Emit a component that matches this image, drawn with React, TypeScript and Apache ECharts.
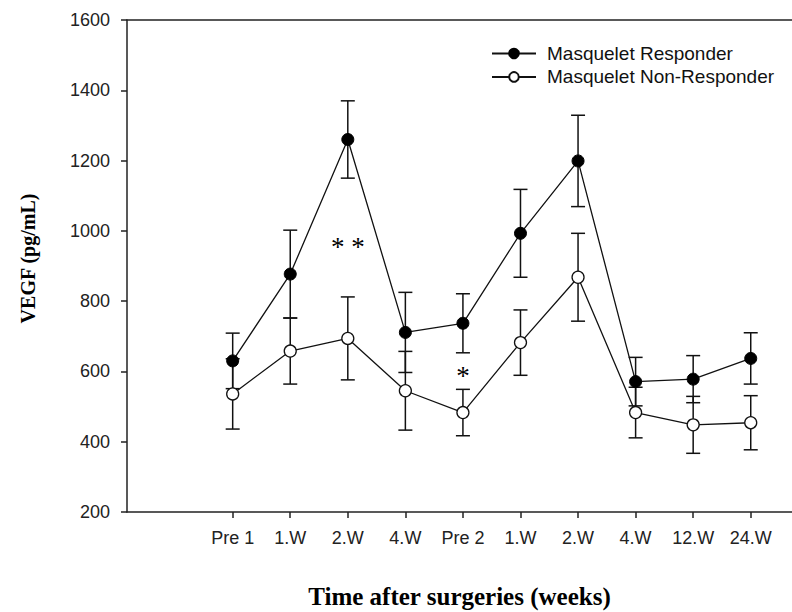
import React, { useEffect, useRef } from "react";
import * as echarts from "echarts";

const categories = ["Pre 1", "1.W", "2.W", "4.W", "Pre 2", "1.W", "2.W", "4.W", "12.W", "24.W"];
const responder = [630, 877, 1260, 711, 737, 993, 1199, 571, 578, 637];
const responderErr = [79, 125, 110, 114, 84, 125, 130, 69, 67, 73];
const nonResponder = [536, 658, 694, 545, 483, 682, 868, 483, 448, 454];
const nonResponderErr = [100, 94, 118, 112, 66, 93, 125, 72, 81, 77];
const yTicks = [200, 400, 600, 800, 1000, 1200, 1400, 1600];
const annotations = [
  { text: "* *", x: 2, y: 954 },
  { text: "*", x: 4, y: 588 },
];

const SANS = "'Liberation Sans', Arial, sans-serif";
const SERIF = "'Liberation Serif', 'Times New Roman', serif";

function errorBarSeries(values: number[], errs: number[], z: number) {
  return {
    type: "custom",
    z,
    silent: true,
    data: values.map((v, i) => [i, v - errs[i], v + errs[i]]),
    encode: { x: 0, y: [1, 2] },
    renderItem: (_params: any, api: any) => {
      const x = api.value(0);
      const top = api.coord([x, api.value(2)]);
      const bot = api.coord([x, api.value(1)]);
      const hw = 7;
      const style = { stroke: "#111", lineWidth: 1.5 };
      return {
        type: "group",
        children: [
          { type: "line", shape: { x1: top[0], y1: top[1], x2: bot[0], y2: bot[1] }, style },
          { type: "line", shape: { x1: top[0] - hw, y1: top[1], x2: top[0] + hw, y2: top[1] }, style },
          { type: "line", shape: { x1: bot[0] - hw, y1: bot[1], x2: bot[0] + hw, y2: bot[1] }, style },
        ],
      };
    },
  };
}

export default function App() {
  const ref = useRef<HTMLDivElement>(null);
  useEffect(() => {
    document.body.style.margin = "0";
    if (!ref.current) return;
    const chart = echarts.init(ref.current, undefined, { renderer: "svg" });
    const idx = categories.map((_, i) => i);
    chart.setOption({
      animation: false,
      backgroundColor: "#fff",
      grid: { left: 127, right: 0, top: 20, bottom: 100, containLabel: false, outerBoundsMode: "none" },
      legend: {
        data: ["Masquelet Responder", "Masquelet Non-Responder"],
        orient: "vertical",
        left: 491,
        top: 44,
        padding: 0,
        itemWidth: 44,
        itemHeight: 12,
        itemGap: 4.4,
        textStyle: { fontFamily: SANS, fontSize: 19, color: "#111", lineHeight: 19, padding: [0, 0, 0, 6] },
      },
      xAxis: [
        {
          type: "value",
          min: -1.836,
          max: 9.717,
          name: "Time after surgeries (weeks)",
          nameLocation: "middle",
          nameGap: 72,
          nameTextStyle: { fontFamily: SERIF, fontSize: 25, fontWeight: "bold", color: "#000" },
          splitLine: { show: false },
          axisLine: { show: true, onZero: false, lineStyle: { color: "#222", width: 1.5 } },
          axisTick: { show: true, customValues: idx, length: 6, lineStyle: { color: "#222", width: 1.5 } },
          axisLabel: {
            customValues: idx,
            formatter: (v: number) => categories[Math.round(v)] ?? "",
            fontFamily: SANS,
            fontSize: 18,
            color: "#222",
            margin: 17,
          },
        },
        {
          type: "value",
          position: "top",
          min: -1.836,
          max: 9.717,
          splitLine: { show: false },
          axisLine: { show: true, onZero: false, lineStyle: { color: "#222", width: 1.5 } },
          axisTick: { show: false },
          axisLabel: { show: false },
        },
      ],
      yAxis: {
        type: "value",
        min: 200,
        max: 1600,
        interval: 200,
        name: "VEGF (pg/mL)",
        nameLocation: "middle",
        nameGap: 89,
        nameTextStyle: {
          fontFamily: SERIF,
          fontSize: 20,
          fontWeight: "bold",
          color: "#000",
          padding: [0, 0, 0, 15],
        },
        splitLine: { show: false },
        axisLine: { show: true, onZero: false, lineStyle: { color: "#222", width: 1.5 } },
        axisTick: { show: true, length: 6, lineStyle: { color: "#222", width: 1.5 } },
        axisLabel: {
          fontFamily: SANS,
          fontSize: 18,
          color: "#222",
          margin: 17,
          formatter: (v: number) => (yTicks.includes(v) ? String(v) : ""),
        },
      },
      series: [
        errorBarSeries(nonResponder, nonResponderErr, 1),
        errorBarSeries(responder, responderErr, 1),
        {
          name: "Masquelet Non-Responder",
          type: "line",
          z: 3,
          data: nonResponder.map((v, i) => [i, v]),
          symbol: "circle",
          symbolSize: 12,
          showAllSymbol: true,
          lineStyle: { color: "#111", width: 1.3 },
          itemStyle: { color: "#fff", borderColor: "#111", borderWidth: 1.3 },
        },
        {
          name: "Masquelet Responder",
          type: "line",
          z: 4,
          data: responder.map((v, i) => [i, v]),
          symbol: "circle",
          symbolSize: 12,
          showAllSymbol: true,
          lineStyle: { color: "#111", width: 1.3 },
          itemStyle: { color: "#000", borderColor: "#000", borderWidth: 1 },
          markPoint: {
            symbol: "circle",
            symbolSize: 1,
            itemStyle: { color: "rgba(0,0,0,0)" },
            label: {
              show: true,
              position: "inside",
              fontFamily: SERIF,
              fontSize: 27,
              color: "#000",
              formatter: (p: any) => p.name,
            },
            data: annotations.map((a) => ({ name: a.text, coord: [a.x, a.y] })),
          },
        },
      ],
    });
    return () => chart.dispose();
  }, []);
  return <div ref={ref} style={{ width: 792, height: 612 }} />;
}
